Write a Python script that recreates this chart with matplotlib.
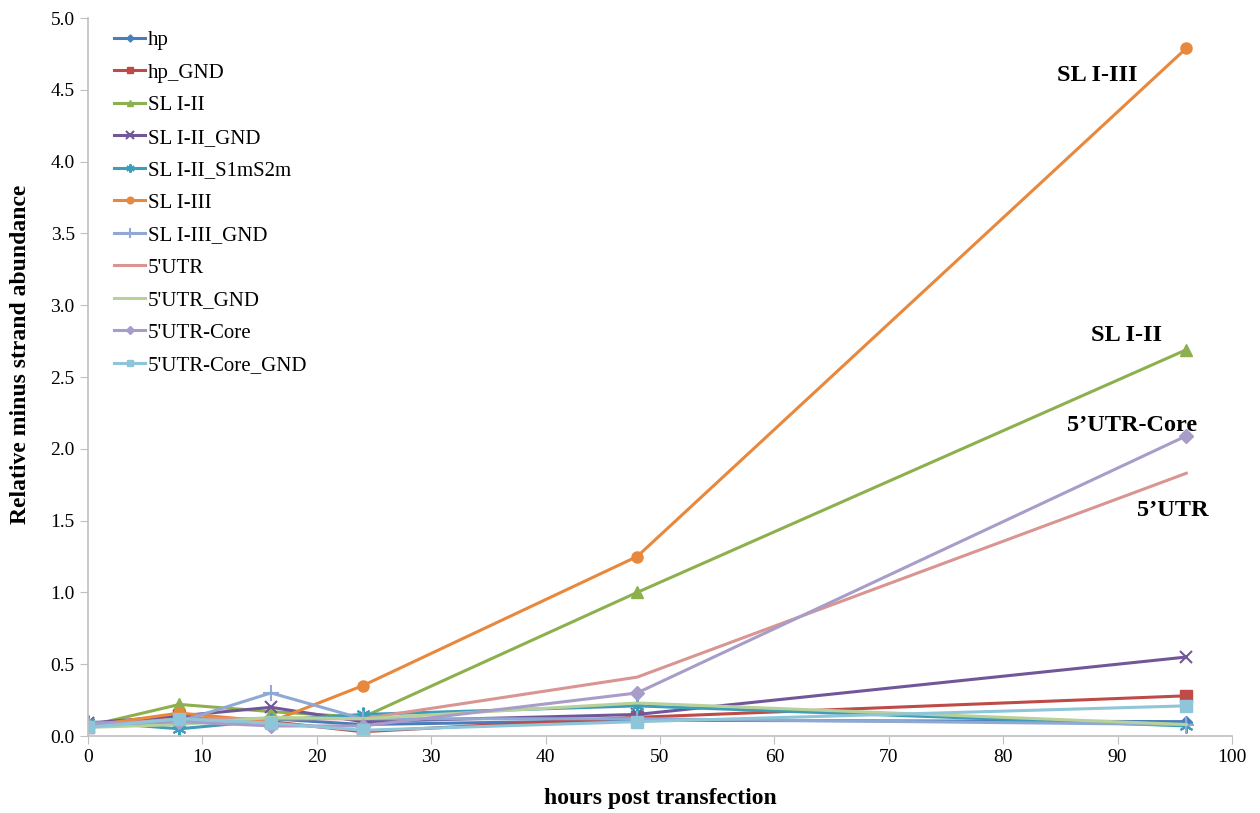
import matplotlib
matplotlib.use("Agg")
import matplotlib.pyplot as plt

plt.rcParams['font.family'] = ['Liberation Serif', 'DejaVu Serif']

hours = [0, 8, 16, 24, 48, 96]

hp = [0.07, 0.10, 0.12, 0.08, 0.11, 0.10]
hp_gnd = [0.06, 0.13, 0.10, 0.03, 0.13, 0.28]
sl12 = [0.07, 0.22, 0.17, 0.13, 1.00, 2.69]
sl12_gnd = [0.09, 0.14, 0.20, 0.10, 0.15, 0.55]
sl12_s1ms2m = [0.10, 0.05, 0.11, 0.15, 0.21, 0.07]
sl13 = [0.07, 0.16, 0.10, 0.35, 1.25, 4.79]
sl13_gnd = [0.09, 0.10, 0.30, 0.12, 0.12, 0.08]
utr = [0.07, 0.12, 0.12, 0.12, 0.41, 1.83]
utr_gnd = [0.06, 0.08, 0.13, 0.12, 0.23, 0.08]
utr_core = [0.08, 0.10, 0.07, 0.07, 0.30, 2.09]
utr_core_gnd = [0.06, 0.12, 0.09, 0.04, 0.10, 0.21]

labels = ["hp", "hp_GND", "SL I-II", "SL I-II_GND", "SL I-II_S1mS2m", "SL I-III",
          "SL I-III_GND", "5'UTR", "5'UTR_GND", "5'UTR-Core", "5'UTR-Core_GND"]
series = [hp, hp_gnd, sl12, sl12_gnd, sl12_s1ms2m, sl13,
          sl13_gnd, utr, utr_gnd, utr_core, utr_core_gnd]
colors = ["#4A7EBB", "#BE4B48", "#8DB04E", "#71579A", "#3E9DB8", "#E8883C",
          "#8FA8D4", "#D89592", "#B8D19A", "#A89CC8", "#8FC5D8"]
markers = ["D", "s", "^", "x", (6, 2, 0), "o", "+", None, None, "D", "s"]
msizes = [6, 8, 8, 9, 10, 8, 12, 0, 0, 7, 8]

# annotation text and position (x, y in data units)
ann_text = ["SL I-III", "SL I-II", "5\u2019UTR-Core", "5\u2019UTR"]
ann_x = [88.2, 90.8, 91.3, 94.8]
ann_y = [4.60, 2.79, 2.16, 1.57]

fig = plt.figure(figsize=(12.6, 8.13), dpi=100)
ax = fig.add_axes([0.0698, 0.0947, 0.908, 0.883])

for y, lab, c, m, ms in zip(series, labels, colors, markers, msizes):
    ax.plot(hours, y, color=c, lw=2.2, marker=m, markersize=ms,
            markeredgewidth=1.5 if m in ("x", "+", (6, 2, 0)) else 1,
            markeredgecolor=c, label=lab)

for t, x, y in zip(ann_text, ann_x, ann_y):
    ax.text(x, y, t, ha='center', va='center', fontsize=17.5, fontweight='bold')

ax.set_xlim(0, 100)
ax.set_ylim(0, 5.0)
ax.set_xticks(range(0, 101, 10))
ax.set_yticks([i * 0.5 for i in range(11)])
ax.set_yticklabels([f"{i * 0.5:.1f}" for i in range(11)])

for s in ['top', 'right']:
    ax.spines[s].set_visible(False)
for s in ['left', 'bottom']:
    ax.spines[s].set_color('#BFBFBF')
    ax.spines[s].set_linewidth(1.2)
ax.tick_params(axis='both', colors='#BFBFBF', labelcolor='black', labelsize=14,
               length=6, direction='out')

ax.set_xlabel("hours post transfection", fontsize=17, fontweight='bold', labelpad=16)
ax.set_ylabel("Relative minus strand abundance", fontsize=17, fontweight='bold')
ax.yaxis.set_label_coords(-0.050, 0.532)

leg = ax.legend(loc='upper left', bbox_to_anchor=(0.012, 1.0), frameon=False,
                fontsize=15, handlelength=1.5, labelspacing=0.62,
                handletextpad=0.12, borderaxespad=0.2, markerscale=0.6)

fig.savefig("out.png", dpi=100)
